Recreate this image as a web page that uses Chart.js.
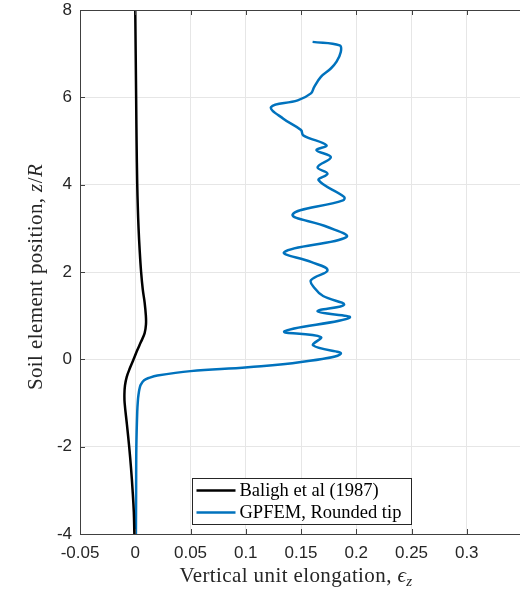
<!DOCTYPE html>
<html lang="en">
<head>
    <meta charset="UTF-8">
    <title>Vertical unit elongation</title>
    <script src="https://cdn.jsdelivr.net/npm/chart.js@4.4.0/dist/chart.umd.min.js"></script>
    <style>
        body { margin: 0; overflow: hidden; background: #fff; }
        .plot { width: 524px; height: 589px; }
    </style>
</head>
<body>
    <div class="plot"><canvas id="strainChart" width="524" height="589"></canvas></div>

    <script>
        // Baligh et al (1987) - position z/R and vertical strain
        const balighZ = [8, 7, 6, 5, 4, 3.5, 3, 2.5, 2, 1.6, 1.3, 1.0, 0.8, 0.6, 0.4, 0.2, 0,
            -0.2, -0.4, -0.6, -0.8, -1.0, -1.5, -2, -2.5, -3, -3.5, -4];
        const balighEps = [0, 0.0004, 0.0008, 0.0012, 0.0018, 0.0023, 0.003, 0.004, 0.0053, 0.0068, 0.0085, 0.0096, 0.0097, 0.0085, 0.0052, 0.0017, -0.0015,
            -0.0048, -0.0077, -0.0093, -0.0098, -0.0096, -0.0075, -0.0055, -0.0038, -0.0024, -0.0013, -0.0008];

        // GPFEM, rounded tip
        const gpfemZ = [-4, -3, -2, -1.2, -0.94, -0.8, -0.67, -0.58, -0.48, -0.42, -0.37, -0.27, -0.18, -0.06,
            0.13, 0.32, 0.51, 0.64, 0.955, 1.1, 1.25, 1.45, 1.64, 1.81, 2.04, 2.23, 2.46, 2.8, 3.03, 3.32,
            3.64, 3.72, 4.1, 4.25, 4.4, 4.63, 4.79, 4.9, 5.13, 5.25, 5.51, 5.78, 5.93, 6.09, 6.24, 6.47,
            6.66, 6.81, 7.04, 7.19, 7.27];
        const gpfemEps = [0.0006, 0.0008, 0.001, 0.0018, 0.0024, 0.003, 0.0039, 0.005, 0.008, 0.013, 0.02, 0.05, 0.102, 0.150,
            0.186, 0.161, 0.168, 0.135, 0.194, 0.165, 0.189, 0.17, 0.162, 0.159, 0.174, 0.159, 0.135, 0.191, 0.174, 0.1425,
            0.188, 0.189, 0.166, 0.174, 0.165, 0.177, 0.164, 0.173, 0.152, 0.150, 0.134, 0.123, 0.147, 0.159, 0.162, 0.168,
            0.177, 0.182, 0.186, 0.185, 0.1605];

        const seriesNames = ["Baligh et al (1987)", "GPFEM, Rounded tip"];
        const seriesColors = ["#000000", "#0072BD"];

        const xTickValues = [-0.05, 0, 0.05, 0.1, 0.15, 0.2, 0.25, 0.3];
        const xTickLabels = ["-0.05", "0", "0.05", "0.1", "0.15", "0.2", "0.25", "0.3"];
        const yTickValues = [-4, -2, 0, 2, 4, 6, 8];
        const yTickLabels = ["-4", "-2", "0", "2", "4", "6", "8"];

        function toPoints(zs, eps) {
            return zs.map(function (z, i) { return { x: eps[i], y: z }; });
        }

        const tickFont = { family: "'Liberation Sans', Arial, sans-serif", size: 17 };
        const serif = "'Liberation Serif', 'DejaVu Serif', serif";

        // axis titles with the italic / subscript bits, drawn after the chart
        const titlesPlugin = {
            id: 'axisTitles',
            afterDraw(chart) {
                const ctx = chart.ctx;
                const area = chart.chartArea;
                ctx.save();
                ctx.fillStyle = '#262626';
                ctx.textBaseline = 'alphabetic';
                ctx.textAlign = 'left';
                ctx.letterSpacing = '0.4px';

                // x title
                const xa = "Vertical unit elongation, ";
                ctx.font = "21px " + serif;
                const w1 = ctx.measureText(xa).width;
                ctx.font = "italic 21px " + serif;
                const w2 = ctx.measureText("\u03F5").width;
                ctx.font = "italic 15px " + serif;
                const w3 = ctx.measureText("z").width;
                let x0 = 296 - (w1 + w2 + w3) / 2;
                const yb = 582;
                ctx.font = "21px " + serif;
                ctx.fillText(xa, x0, yb);
                ctx.font = "italic 21px " + serif;
                ctx.fillText("\u03F5", x0 + w1, yb);
                ctx.font = "italic 15px " + serif;
                ctx.fillText("z", x0 + w1 + w2, yb + 4);

                // y title, rotated
                const parts = [
                    ["Soil element position, ", "21px "],
                    ["z", "italic 21px "],
                    ["/", "21px "],
                    ["R", "italic 21px "]
                ];
                let total = 0;
                parts.forEach(function (p) { ctx.font = p[1] + serif; total += ctx.measureText(p[0]).width; });
                ctx.translate(42, 277);
                ctx.rotate(-Math.PI / 2);
                let px = -total / 2;
                parts.forEach(function (p) {
                    ctx.font = p[1] + serif;
                    ctx.fillText(p[0], px, 0);
                    px += ctx.measureText(p[0]).width;
                });
                ctx.restore();
            }
        };

        // MATLAB-like boxed legend near the bottom of the axes
        const legendPlugin = {
            id: 'boxLegend',
            afterDraw(chart) {
                const ctx = chart.ctx;
                const area = chart.chartArea;
                const boxW = 219, boxH = 46;
                const bx = Math.round((area.left + area.right) / 2 - boxW / 2) + 0.5;
                const by = Math.round(area.bottom - 10 - boxH) + 0.5;
                ctx.save();
                ctx.fillStyle = '#ffffff';
                ctx.fillRect(bx, by, boxW, boxH);
                ctx.strokeStyle = '#262626';
                ctx.lineWidth = 1;
                ctx.strokeRect(bx, by, boxW, boxH);
                ctx.font = "18.5px " + serif;
                ctx.textBaseline = 'middle';
                ctx.textAlign = 'left';
                chart.data.datasets.forEach(function (ds, i) {
                    const cy = by + 12 + i * 22;
                    ctx.strokeStyle = ds.borderColor;
                    ctx.lineWidth = 2.5;
                    ctx.beginPath();
                    ctx.moveTo(bx + 4, cy);
                    ctx.lineTo(bx + 43, cy);
                    ctx.stroke();
                    ctx.fillStyle = '#000';
                    ctx.fillText(ds.label, bx + 47, cy + 1);
                });
                ctx.restore();
            }
        };

        // small inward tick marks like the original axes
        const innerTicks = {
            id: 'innerTicks',
            afterDatasetsDraw(chart) {
                const ctx = chart.ctx;
                const area = chart.chartArea;
                const xs = chart.scales.x, ys = chart.scales.y;
                ctx.save();
                ctx.strokeStyle = '#404040';
                ctx.lineWidth = 1;
                ctx.beginPath();
                xTickValues.forEach(function (v) {
                    const px = Math.round(xs.getPixelForValue(v)) + 0.5;
                    ctx.moveTo(px, area.bottom);
                    ctx.lineTo(px, area.bottom - 5);
                    ctx.moveTo(px, area.top);
                    ctx.lineTo(px, area.top + 5);
                });
                yTickValues.forEach(function (v) {
                    const py = Math.round(ys.getPixelForValue(v)) + 0.5;
                    ctx.moveTo(area.left, py);
                    ctx.lineTo(area.left + 5, py);
                });
                ctx.stroke();
                // top border
                ctx.beginPath();
                ctx.moveTo(area.left, area.top + 0.5);
                ctx.lineTo(area.right, area.top + 0.5);
                ctx.stroke();
                ctx.restore();
            }
        };

        new Chart("strainChart", {
            type: "scatter",
            data: {
                datasets: [{
                    label: seriesNames[0],
                    data: toPoints(balighZ, balighEps),
                    borderColor: seriesColors[0],
                    backgroundColor: seriesColors[0],
                    borderWidth: 2.5,
                    showLine: true,
                    pointRadius: 0,
                    tension: 0.4
                }, {
                    label: seriesNames[1],
                    data: toPoints(gpfemZ, gpfemEps),
                    borderColor: seriesColors[1],
                    backgroundColor: seriesColors[1],
                    borderWidth: 2.5,
                    showLine: true,
                    pointRadius: 0,
                    tension: 0.4
                }]
            },
            options: {
                responsive: false,
                animation: false,
                layout: { padding: { top: 10, right: 2, left: 0, bottom: 0 } },
                plugins: {
                    legend: { display: false },
                    tooltip: { enabled: false }
                },
                scales: {
                    x: {
                        type: 'linear',
                        min: -0.05,
                        max: 0.35,
                        afterBuildTicks: function (scale) {
                            scale.ticks = xTickValues.map(function (v) { return { value: v }; });
                        },
                        afterFit: function (scale) {
                            scale.height = 55;
                            scale.paddingLeft = 0;
                            scale.paddingRight = 0;
                        },
                        ticks: {
                            color: '#262626',
                            font: tickFont,
                            padding: 9,
                            maxRotation: 0,
                            autoSkip: false,
                            callback: function (v, i) { return xTickLabels[i]; }
                        },
                        grid: { color: '#e6e6e6', drawTicks: false },
                        border: { color: '#404040', width: 1 }
                    },
                    y: {
                        type: 'linear',
                        min: -4,
                        max: 8,
                        afterBuildTicks: function (scale) {
                            scale.ticks = yTickValues.map(function (v) { return { value: v }; });
                        },
                        afterFit: function (scale) {
                            scale.width = 80;
                            scale.paddingTop = 0;
                            scale.paddingBottom = 0;
                        },
                        ticks: {
                            color: '#262626',
                            font: tickFont,
                            padding: 8,
                            autoSkip: false,
                            callback: function (v, i) { return yTickLabels[i]; }
                        },
                        grid: { color: '#e6e6e6', drawTicks: false },
                        border: { color: '#404040', width: 1 }
                    }
                }
            },
            plugins: [innerTicks, legendPlugin, titlesPlugin]
        });
    </script>
</body>
</html>
